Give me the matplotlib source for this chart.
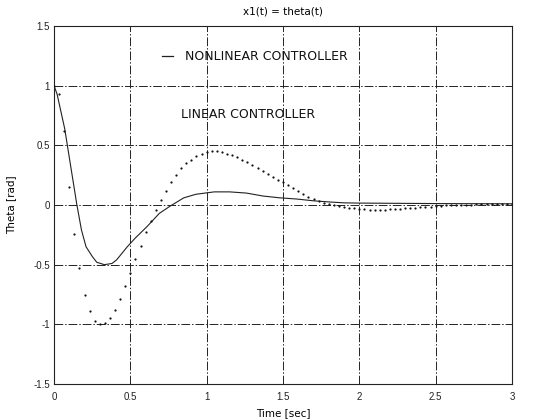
import matplotlib
matplotlib.use("Agg")
import matplotlib.pyplot as plt

# Nonlinear controller response (solid)
nl_t = [0.0, 0.02, 0.07, 0.15, 0.18, 0.21, 0.25, 0.28, 0.33, 0.38, 0.41, 0.48, 0.53,
        0.61, 0.69, 0.76, 0.85, 0.93, 1.05, 1.15, 1.26, 1.37, 1.48, 1.59, 1.70, 1.81,
        1.90, 2.0, 2.5, 3.0]
nl_y = [1.0, 0.93, 0.64, 0.0, -0.21, -0.35, -0.43, -0.48, -0.50, -0.49, -0.46, -0.35, -0.28,
        -0.18, -0.07, -0.01, 0.06, 0.09, 0.11, 0.11, 0.10, 0.075, 0.06, 0.05, 0.035, 0.025,
        0.018, 0.016, 0.012, 0.01]

# Linear controller response (dotted samples)
lin_t = [0.000, 0.033, 0.067, 0.100, 0.133, 0.167, 0.200, 0.233, 0.267, 0.300,
         0.333, 0.367, 0.400, 0.433, 0.467, 0.500, 0.533, 0.567, 0.600, 0.633,
         0.667, 0.700, 0.733, 0.767, 0.800, 0.833, 0.867, 0.900, 0.933, 0.967,
         1.000, 1.033, 1.067, 1.100, 1.133, 1.167, 1.200, 1.233, 1.267, 1.300,
         1.333, 1.367, 1.400, 1.433, 1.467, 1.500, 1.533, 1.567, 1.600, 1.633,
         1.667, 1.700, 1.733, 1.767, 1.800, 1.833, 1.867, 1.900, 1.933, 1.967,
         2.000, 2.033, 2.067, 2.100, 2.133, 2.167, 2.200, 2.233, 2.267, 2.300,
         2.333, 2.367, 2.400, 2.433, 2.467, 2.500, 2.533, 2.567, 2.600, 2.633,
         2.667, 2.700, 2.733, 2.767, 2.800, 2.833, 2.867, 2.900, 2.933, 2.967, 3.000]
lin_y = [1.00, 0.93, 0.62, 0.15, -0.24, -0.53, -0.75, -0.89, -0.97, -1.00,
         -0.99, -0.95, -0.88, -0.79, -0.68, -0.57, -0.45, -0.34, -0.23, -0.13,
         -0.04, 0.04, 0.12, 0.19, 0.25, 0.31, 0.35, 0.38, 0.41, 0.43,
         0.44, 0.45, 0.45, 0.44, 0.43, 0.415, 0.40, 0.38, 0.36, 0.335,
         0.31, 0.285, 0.26, 0.235, 0.21, 0.19, 0.165, 0.14, 0.115, 0.09,
         0.07, 0.05, 0.035, 0.02, 0.01, 0.0, -0.01, -0.018, -0.024, -0.029,
         -0.033, -0.036, -0.038, -0.039, -0.039, -0.038, -0.036, -0.034, -0.031, -0.028,
         -0.025, -0.022, -0.019, -0.016, -0.013, -0.010, -0.007, -0.004, -0.002, 0.0,
         0.002, 0.003, 0.004, 0.005, 0.006, 0.007, 0.008, 0.008, 0.009, 0.009, 0.01]

x_ticks = [0, 0.5, 1, 1.5, 2, 2.5, 3]
x_ticklabels = ["0", "0.5", "1", "1.5", "2", "2.5", "3"]
y_ticks = [-1.5, -1, -0.5, 0, 0.5, 1, 1.5]
y_ticklabels = ["-1.5", "-1", "-0.5", "0", "0.5", "1", "1.5"]

plt.rcParams['font.family'] = ['Liberation Sans', 'DejaVu Sans']

fig = plt.figure(figsize=(5.5, 4.19), dpi=100)
ax = fig.add_axes([54/550, 1-384/419, (512-54)/550, (384-26)/419])

ax.plot(nl_t, nl_y, color='#222222', lw=0.8, zorder=3)
ax.plot(lin_t, lin_y, linestyle='none', marker='o', ms=1.6, color='#111111',
        markeredgewidth=0, zorder=3)

ax.set_xlim(0, 3)
ax.set_ylim(-1.5, 1.5)
ax.set_xticks(x_ticks)
ax.set_xticklabels(x_ticklabels)
ax.set_yticks(y_ticks)
ax.set_yticklabels(y_ticklabels)
ax.tick_params(length=0, labelsize=7, colors='#222222')
ax.tick_params(axis='x', pad=6)
ax.tick_params(axis='y', pad=3)
ax.grid(True, color='#222222', linestyle=(0, (9, 2, 1.5, 2)), lw=0.7)
for s in ax.spines.values():
    s.set_linewidth(0.8)
    s.set_color('#222222')

ax.set_title("x1(t) = theta(t)", fontsize=7.5, pad=8, family='DejaVu Sans')
ax.set_xlabel("Time [sec]", fontsize=7.5, labelpad=4, family='DejaVu Sans')
ax.set_ylabel("Theta [rad]", fontsize=7.5, labelpad=12, family='DejaVu Sans')

ax.plot([0.71, 0.78], [1.245, 1.245], color='#222222', lw=0.9, zorder=4)
ax.text(0.857, 1.245, "NONLINEAR CONTROLLER", fontsize=9, va='center', ha='left',
        color='#111111', family='DejaVu Sans')
ax.text(0.835, 0.76, "LINEAR CONTROLLER", fontsize=9, va='center', ha='left',
        color='#111111', family='DejaVu Sans')

fig.savefig("out.png", dpi=100)
